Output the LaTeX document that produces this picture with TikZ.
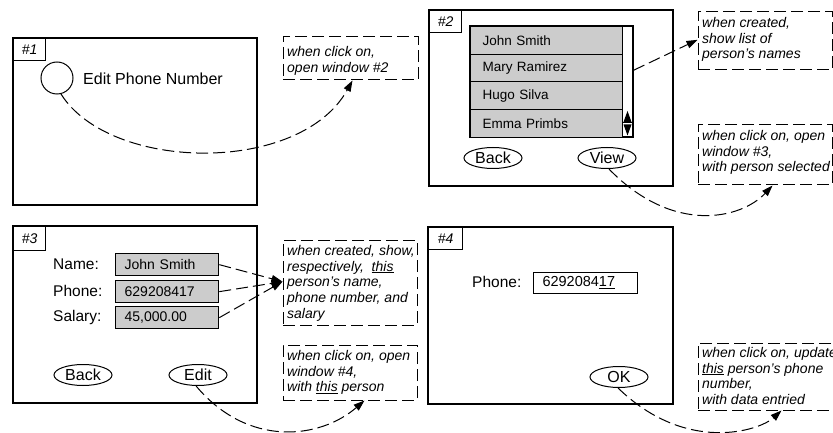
\documentclass[tikz,border=0pt]{standalone}
\usepackage{fontspec}
\setmainfont{Liberation Sans}
\usetikzlibrary{arrows.meta,calc,fit,shapes.geometric}
\definecolor{fieldgray}{HTML}{CCCCCC}
\newcommand\thickuline[1]{\setbox0=\hbox{#1}\rlap{\rule[-2.8pt]{\wd0}{1.6pt}}#1}
\begin{document}
\begin{tikzpicture}[x=1pt,y=-1pt,
  frame/.style={draw,line width=1.1pt,inner sep=0pt},
  tag/.style={draw,line width=1.1pt,inner sep=0pt,anchor=north west,minimum width=32pt,minimum height=22pt,font=\fontsize{14}{16}\selectfont\itshape},
  note/.style={draw,dash pattern=on 12pt off 5pt,line width=1pt,inner sep=0pt},
  notetext/.style={anchor=north west,inner sep=0pt,align=left,font=\fontsize{14}{15.7}\selectfont\itshape},
  flow/.style={dash pattern=on 12pt off 5pt,line width=1pt,-{Triangle[length=11pt,width=7.5pt]}},
  btn/.style={draw,ellipse,line width=1pt,minimum width=58pt,minimum height=21pt,inner sep=0pt,font=\fontsize{16}{19}\selectfont},
  listrow/.style={draw,fill=fieldgray,line width=1pt,anchor=north west,minimum width=152pt,minimum height=27.75pt,text width=128pt,inner xsep=12pt,inner ysep=0pt,align=left,font=\fontsize{13.5}{16}\selectfont},
  field/.style={draw,fill=fieldgray,line width=1.3pt,anchor=north west,minimum width=103pt,minimum height=22pt,text width=85pt,inner xsep=9pt,inner ysep=0pt,align=left,font=\fontsize{14}{16}\selectfont},
  field4/.style={draw,fill=white,line width=1pt,anchor=north west,minimum width=104pt,minimum height=21pt,text width=86pt,inner xsep=9pt,inner ysep=0pt,align=left,font=\fontsize{14.5}{16}\selectfont},
  lbl/.style={anchor=west,inner sep=0pt,font=\fontsize{15.5}{18}\selectfont}]
\useasboundingbox (0,0) rectangle (833,433);

% ---------- window #1
\node[frame,fit={(13,38)(257,205)}] (win1) {};
\node[tag] (tag1) at (13,38) {\#1};
\node[circle,draw,line width=1pt,minimum size=32pt,inner sep=0pt] (c1) at (57,78) {};
\node[anchor=west,inner sep=0pt,font=\fontsize{16}{19}\selectfont] (t1) at (83,79) {Edit Phone Number};

% ---------- window #2
\node[frame,fit={(429,10)(673,186)}] (win2) {};
\node[tag] (tag2) at (429,10) {\#2};
\node[frame,fit={(470,26)(633,137)}] (list) {};
\node[listrow] (r1) at (470,26) {John Smith};
\node[listrow] (r2) at (470,53.75) {Mary Ramirez};
\node[listrow] (r3) at (470,81.5) {Hugo Silva};
\node[listrow] (r4) at (470,109.25) {Emma Primbs};
\fill (623.5,122) -- (631.5,122) -- (627.5,111) -- cycle;
\draw[line width=1pt] (622,123) -- (633,123);
\fill (623.5,124.5) -- (631.5,124.5) -- (627.5,135.5) -- cycle;
\node[btn] (back2) at (493,158) {Back};
\node[btn] (view) at (607,158) {View};

% ---------- window #3
\node[frame,fit={(13,226)(257,403)}] (win3) {};
\node[tag,minimum height=24pt] (tag3) at (13,226) {\#3};
\node[lbl] (lname) at (53,264) {Name:};
\node[lbl] (lphone) at (53,291) {Phone:};
\node[lbl] (lsal) at (53,317) {Salary:};
\node[field] (fname) at (115,253) {John Smith};
\node[field] (fphone) at (115,280) {629208417};
\node[field] (fsal) at (115,306) {45,000.00};
\node[btn] (back3) at (83,375) {Back};
\node[btn] (edit) at (198,375) {Edit};

% ---------- window #4
\node[frame,fit={(428,227)(673,404)}] (win4) {};
\node[tag,minimum width=34pt] (tag4) at (428,227) {\#4};
\node[lbl] (lphone4) at (472,282) {Phone:};
\node[field4] (f4) at (533,272) {6292084\thickuline{17}};
\node[btn] (ok) at (619,377) {OK};

% ---------- notes
\node[note,fit={(283,37)(418,80)}] (boxA) {};
\node[notetext] (nA) at (287,46) {when click on,\\open window \#2};
\node[note,fit={(698,12)(832,70)}] (boxB) {};
\node[notetext] (nB) at (702,17) {when created,\\show list of\\person's names};
\node[note,fit={(698,125)(832,185)}] (boxC) {};
\node[notetext] (nC) at (702,130) {when click on, open\\window \#3,\\with person selected};
\node[note,fit={(283,240)(417,325)}] (boxD) {};
\node[notetext] (nD) at (287,245) {when created, show,\\respectively,\ \ \underline{this}\\person's name,\\phone number, and\\salary};
\node[note,fit={(283,345)(417,400)}] (boxE) {};
\node[notetext] (nE) at (287,350) {when click on, open\\window \#4,\\with \underline{this} person};
\node[note,fit={(698,343)(850,410)}] (boxF) {};
\node[notetext] (nF) at (702,347) {when click on, update\\\underline{this} person's phone\\number,\\with data entried};

% ---------- connectors
\draw[flow] (c1.-76) .. controls (110,172) and (300,175) .. ($(boxA.south west)+(70,0)$);
\draw[flow] ($(list.north east)!0.4!(list.south east)$) -- ($(boxB.north west)!0.48!(boxB.south west)$);
\draw[flow] (view.-80) .. controls (673,235) and (741,219) .. ($(boxC.south west)+(75,0)$);
\coordinate (tipD) at ($(boxD.north west)!0.49!(boxD.south west)$);
\draw[flow] (fname.east) -- (tipD);
\draw[flow] (fphone.east) -- (tipD);
\draw[flow] (fsal.east) -- (tipD);
\draw[flow] (edit.-100) .. controls (248,448) and (320,439) .. ($(boxE.south west)+(82,0)$);
\draw[flow] (ok.-95) .. controls (686,454) and (759,431) .. ($(boxF.south west)+(84,0)$);
\end{tikzpicture}
\end{document}
